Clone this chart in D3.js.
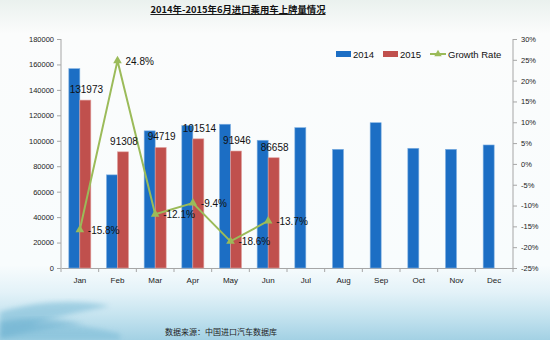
<!DOCTYPE html>
<html>
<head>
<meta charset="utf-8">
<script src="https://cdn.jsdelivr.net/npm/d3@7"></script>
<style>
  html, body { margin: 0; padding: 0; }
  body { width: 550px; height: 340px; overflow: hidden; font-family: "Liberation Sans", Arial, sans-serif; }
</style>
</head>
<body>
<svg id="chart" width="550" height="340"></svg>
<script>
// Monthly registrations of imported passenger cars
const months = ["Jan", "Feb", "Mar", "Apr", "May", "Jun", "Jul", "Aug", "Sep", "Oct", "Nov", "Dec"];
const values2014 = [156700, 73200, 107800, 112000, 113000, 100400, 110300, 93300, 114200, 94100, 93300, 96700];
const values2015 = [131973, 91308, 94719, 101514, 91946, 86658];
const growthRate = [-15.8, 24.8, -12.1, -9.4, -18.6, -13.7];
const leftTicks = [0, 20000, 40000, 60000, 80000, 100000, 120000, 140000, 160000, 180000];
const rightTicks = [-25, -20, -15, -10, -5, 0, 5, 10, 15, 20, 25, 30];

const titleText = "2014年-2015年6月进口乘用车上牌量情况";
const sourceText = "数据来源：中国进口汽车数据库";

const W = 550, H = 340;
const plot = { left: 61, right: 513, top: 39, bottom: 268 };
const colors = { y2014: "#1c6ec4", y2015: "#c0504d", growth: "#9bbb59", axis: "#a6a6a6" };

const svg = d3.select("#chart");
const defs = svg.append("defs");

// page background: pale top, light blue towards the bottom
const bg = defs.append("linearGradient").attr("id", "bg").attr("x1", 0).attr("y1", 0).attr("x2", 0).attr("y2", 1);
[[0, "#eaf1ee"], [0.1, "#fbfcfc"], [0.78, "#f8fcfd"], [0.86, "#e3f2f8"], [0.93, "#c4e3ef"], [1, "#a3d1e4"]]
  .forEach(([o, c]) => bg.append("stop").attr("offset", o).attr("stop-color", c));
svg.append("rect").attr("width", W).attr("height", H).attr("fill", "url(#bg)");

// soft wave in the lower left corner
defs.append("filter").attr("id", "soft").append("feGaussianBlur").attr("stdDeviation", 2.5);
svg.append("path")
  .attr("d", "M0,312 C40,300 80,300 110,306 C80,312 50,318 30,326 C60,322 90,326 120,334 L120,340 L0,340 Z")
  .attr("fill", "#7fbdd8").attr("opacity", 0.6).attr("filter", "url(#soft)");
svg.append("path")
  .attr("d", "M0,322 C30,316 60,318 85,324 C55,326 30,332 0,338 Z")
  .attr("fill", "#5aa6c9").attr("opacity", 0.4).attr("filter", "url(#soft)");

// scales
const x = d3.scaleBand().domain(months).range([plot.left, plot.right]).paddingInner(0).paddingOuter(0);
const barW = 11;
const yL = d3.scaleLinear().domain([0, 180000]).range([plot.bottom, plot.top]);
const yR = d3.scaleLinear().domain([-25, 30]).range([plot.bottom, plot.top]);

// title
svg.append("text")
  .attr("x", 238).attr("y", 13)
  .attr("text-anchor", "middle")
  .attr("font-family", "'Noto Sans CJK SC', sans-serif")
  .attr("font-weight", "bold").attr("font-size", 9.4)
  .attr("text-decoration", "underline")
  .attr("fill", "#111")
  .text(titleText);

// axes
const leftAxis = d3.axisLeft(yL).tickValues(leftTicks).tickSize(4).tickPadding(3).tickFormat(d3.format("d"));
const gL = svg.append("g").attr("transform", `translate(${plot.left},0)`).call(leftAxis);
const rightAxis = d3.axisRight(yR).tickValues(rightTicks).tickSize(4).tickPadding(4).tickFormat(d => d + "%");
const gR = svg.append("g").attr("transform", `translate(${plot.right},0)`).call(rightAxis);
const bottomAxis = d3.axisBottom(x).tickSize(0).tickPadding(9);
const gB = svg.append("g").attr("transform", `translate(0,${plot.bottom})`).call(bottomAxis);

// category separators on the bottom axis
gB.selectAll(".sep").data(d3.range(months.length + 1)).join("line")
  .attr("class", "sep")
  .attr("x1", i => plot.left + i * x.step()).attr("x2", i => plot.left + i * x.step())
  .attr("y1", 0).attr("y2", 4)
  .attr("stroke", colors.axis);

[gL, gR, gB].forEach(g => {
  g.selectAll(".domain").attr("stroke", colors.axis);
  g.selectAll(".tick line").attr("stroke", colors.axis);
  g.selectAll("text").attr("font-family", "'Liberation Sans', Arial, sans-serif").attr("fill", "#222");
});
gL.selectAll("text").attr("font-size", 7.5);
gR.selectAll("text").attr("font-size", 7.5);
gB.selectAll("text").attr("font-size", 8);
gL.select(".domain").attr("d", `M0,${plot.top}V${plot.bottom}`);
gR.select(".domain").attr("d", `M0,${plot.top}V${plot.bottom}`);

// bars
const center = m => x(m) + x.bandwidth() / 2;
svg.append("g").selectAll("rect").data(values2014).join("rect")
  .attr("x", (d, i) => center(months[i]) - barW)
  .attr("y", d => yL(d))
  .attr("width", barW)
  .attr("height", d => plot.bottom - yL(d))
  .attr("fill", colors.y2014)
  .attr("stroke", "#7fb0e2").attr("stroke-width", 0.6);

svg.append("g").selectAll("rect").data(values2015).join("rect")
  .attr("x", (d, i) => center(months[i]))
  .attr("y", d => yL(d))
  .attr("width", barW)
  .attr("height", d => plot.bottom - yL(d))
  .attr("fill", colors.y2015)
  .attr("stroke", "#e0a09e").attr("stroke-width", 0.6);

// growth line
const line = d3.line().x((d, i) => center(months[i])).y(d => yR(d));
svg.append("path").datum(growthRate)
  .attr("d", line)
  .attr("fill", "none").attr("stroke", colors.growth).attr("stroke-width", 2);

const tri = d3.symbol().type(d3.symbolTriangle).size(32);
svg.append("g").selectAll("path").data(growthRate).join("path")
  .attr("transform", (d, i) => `translate(${center(months[i])},${yR(d)})`)
  .attr("d", tri)
  .attr("fill", colors.growth);

// value labels for 2015 bars
svg.append("g").selectAll("text").data(values2015).join("text")
  .attr("x", (d, i) => center(months[i]) + barW / 2 + 1)
  .attr("y", d => yL(d) - 7)
  .attr("text-anchor", "middle")
  .attr("font-size", 10).attr("fill", "#111")
  .text(d => d);

// growth rate labels
svg.append("g").selectAll("text").data(growthRate).join("text")
  .attr("x", (d, i) => center(months[i]) + 8)
  .attr("y", d => yR(d) + 4)
  .attr("font-size", 10).attr("fill", "#111")
  .text(d => d.toFixed(1) + "%");

// legend
const lg = svg.append("g").attr("font-size", 9.5).attr("fill", "#111");
lg.append("rect").attr("x", 336).attr("y", 51).attr("width", 15).attr("height", 6).attr("fill", colors.y2014);
lg.append("text").attr("x", 353).attr("y", 58).text("2014");
lg.append("rect").attr("x", 383).attr("y", 51).attr("width", 15).attr("height", 6).attr("fill", colors.y2015);
lg.append("text").attr("x", 400).attr("y", 58).text("2015");
lg.append("line").attr("x1", 430).attr("x2", 446).attr("y1", 54).attr("y2", 54)
  .attr("stroke", colors.growth).attr("stroke-width", 2);
lg.append("path").attr("transform", "translate(438,54)").attr("d", d3.symbol().type(d3.symbolTriangle).size(24)).attr("fill", colors.growth);
lg.append("text").attr("x", 448).attr("y", 58).text("Growth Rate");

// source note
svg.append("text")
  .attr("x", 165).attr("y", 335)
  .attr("font-family", "'Noto Sans CJK SC', sans-serif")
  .attr("font-size", 8).attr("fill", "#222")
  .text(sourceText);
</script>
</body>
</html>
